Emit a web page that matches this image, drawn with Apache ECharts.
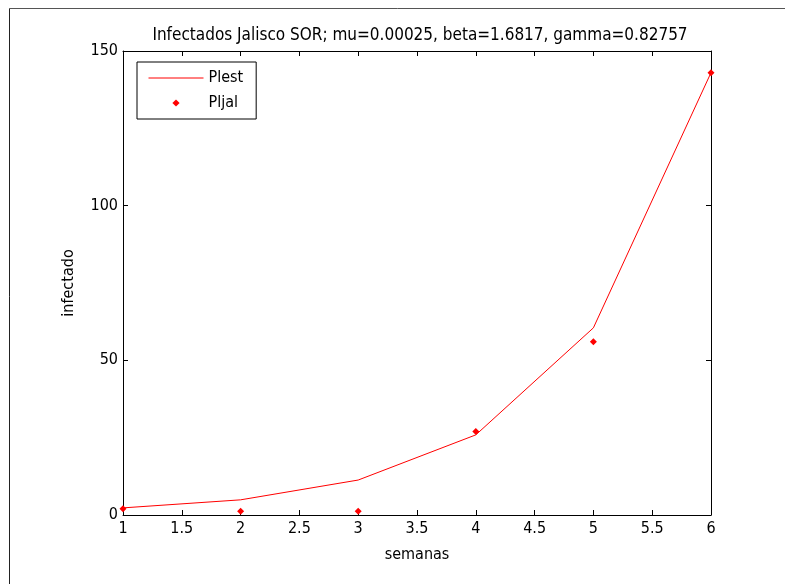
<!DOCTYPE html>
<html>
<head>
<meta charset="utf-8">
<script src="https://cdn.jsdelivr.net/npm/echarts@6/dist/echarts.min.js"></script>
<style>
html,body{margin:0;padding:0;background:#fff;}
#chart{width:785px;height:584px;}
</style>
</head>
<body>
<div id="chart"></div>
<script>
var semanas = [1, 2, 3, 4, 5, 6];
var plest = [2.3, 4.9, 11.3, 25.9, 60.5, 143];
var pljal = [2, 1.2, 1.2, 27, 56, 143];
var xTicks = {min: 1, max: 6, interval: 0.5};
var yTicks = {min: 0, max: 150, interval: 50};
var titleText = 'Infectados Jalisco SOR; mu=0.00025, beta=1.6817, gamma=0.82757';

var FONT = '"DejaVu Sans Condensed", "Liberation Sans", Arial, sans-serif';

function pairs(xs, ys) { return xs.map(function (x, i) { return [x, ys[i]]; }); }

var chart = echarts.init(document.getElementById('chart'), null, {renderer: 'canvas'});

function xAxisDef(pos, showLabel) {
  return {
    type: 'value', position: pos, min: xTicks.min, max: xTicks.max, interval: xTicks.interval,
    axisLine: {show: true, onZero: false, lineStyle: {color: '#000', width: 1}},
    axisTick: {show: true, inside: true, length: 5, lineStyle: {color: '#000'}},
    axisLabel: {show: showLabel, color: '#000', fontFamily: FONT, fontSize: 16, margin: 6},
    splitLine: {show: false},
    name: showLabel ? 'semanas' : '', nameLocation: 'middle', nameGap: 32,
    nameTextStyle: {color: '#000', fontFamily: FONT, fontSize: 16}
  };
}
function yAxisDef(pos, showLabel) {
  return {
    type: 'value', position: pos, min: yTicks.min, max: yTicks.max, interval: yTicks.interval,
    axisLine: {show: true, onZero: false, lineStyle: {color: '#000', width: 1}},
    axisTick: {show: true, inside: true, length: 5, lineStyle: {color: '#000'}},
    axisLabel: {show: showLabel, color: '#000', fontFamily: FONT, fontSize: 16, margin: 5},
    splitLine: {show: false},
    name: showLabel ? 'infectado' : '', nameLocation: 'middle', nameGap: 46,
    nameTextStyle: {color: '#000', fontFamily: FONT, fontSize: 16}
  };
}

chart.setOption({
  animation: false,
  backgroundColor: '#fff',
  title: {
    text: titleText, left: 415, top: 22, textAlign: 'center',
    textStyle: {color: '#000', fontFamily: FONT, fontSize: 17, fontWeight: 'normal'}
  },
  grid: {left: 123, right: 74, top: 51, bottom: 69, containLabel: false},
  xAxis: [xAxisDef('bottom', true), xAxisDef('top', false)],
  yAxis: [yAxisDef('left', true), yAxisDef('right', false)],
  legend: {
    orient: 'vertical', left: 137, top: 62,
    backgroundColor: '#fff', borderColor: '#000', borderWidth: 1,
    padding: [8, 13, 8, 11], itemWidth: 55, itemHeight: 9, itemGap: 9,
    textStyle: {color: '#000', fontFamily: FONT, fontSize: 16},
    data: [
      {name: 'Plest', itemStyle: {opacity: 0}, lineStyle: {width: 1}},
      {name: 'Pljal', lineStyle: {opacity: 0}}
    ]
  },
  graphic: [
    {type: 'line', shape: {x1: 9.5, y1: 8.5, x2: 785, y2: 8.5}, style: {stroke: '#555', lineWidth: 1}},
    {type: 'line', shape: {x1: 9.5, y1: 8.5, x2: 9.5, y2: 584}, style: {stroke: '#222', lineWidth: 1}}
  ],
  series: [
    {
      name: 'Plest', type: 'line', xAxisIndex: 0, yAxisIndex: 0,
      data: pairs(semanas, plest), symbol: 'none', showSymbol: false,
      lineStyle: {color: '#ff0000', width: 1}, itemStyle: {color: '#ff0000'}, z: 3
    },
    {
      name: 'Pljal', type: 'line', xAxisIndex: 0, yAxisIndex: 0,
      data: pairs(semanas, pljal), symbol: 'diamond', symbolSize: 7, showSymbol: true,
      lineStyle: {opacity: 0, width: 0}, itemStyle: {color: '#ff0000'}, z: 4
    }
  ]
});
</script>
</body>
</html>
